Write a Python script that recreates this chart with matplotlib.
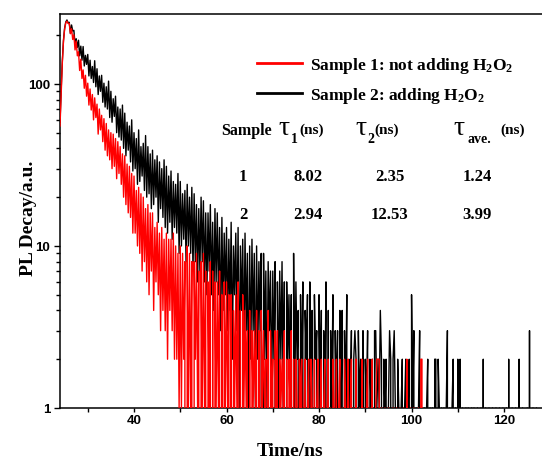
import numpy as np
import matplotlib
matplotlib.use('Agg')
import matplotlib.pyplot as plt
from matplotlib.lines import Line2D
from matplotlib.ticker import FixedLocator, NullFormatter, MultipleLocator
from matplotlib.font_manager import FontProperties

# ---------------- data (photon counts) ----------------
time_start = 24.0      # ns, first channel shown
time_step = 0.25       # ns per channel

# Sample 2: adding H2O2 (black), channels from 24.0 ns (8 values = 2 ns per row)
black_counts = [
    58, 92, 138, 186, 221, 241, 248, 238,
    240, 205, 231, 212, 214, 176, 190, 168,
    186, 149, 171, 140, 170, 129, 150, 132,
    152, 112, 140, 108, 128, 102, 139, 96,
    124, 86, 112, 90, 113, 77, 101, 72,
    96, 70, 104, 62, 90, 58, 81, 63,
    84, 50, 72, 47, 70, 45, 74, 40,
    66, 36, 58, 39, 55, 33, 60, 29,
    50, 30, 46, 24, 52, 25, 41, 27,
    43, 22, 48, 20, 41, 21, 37, 17,
    39, 18, 34, 20, 36, 14, 33, 17,
    30, 15, 34, 13, 31, 12, 27, 14,
    29, 11, 25, 13, 24, 12, 28, 9,
    25, 10, 21, 11, 22, 8, 24, 10,
    20, 9, 23, 7, 21, 8, 18, 6,
    17, 7, 20, 8, 19, 6, 16, 5,
    16, 7, 18, 5, 14, 4, 17, 6,
    16, 5, 13, 3, 15, 4, 12, 5,
    13, 3, 11, 4, 14, 2, 10, 5,
    12, 3, 13, 1, 10, 4, 11, 2,
    12, 3, 9, 1, 10, 2, 11, 3,
    9, 1, 10, 2, 8, 3, 9, 0,
    9, 2, 7, 1, 8, 3, 7, 1,
    7, 2, 8, 0, 6, 1, 7, 2,
    8, 1, 6, 0, 6, 2, 5, 1,
    5, 0, 9, 1, 6, 2, 4, 0,
    5, 1, 6, 0, 4, 2, 5, 0,
    6, 1, 4, 0, 5, 2, 3, 0,
    5, 1, 4, 0, 3, 1, 6, 0,
    4, 0, 3, 1, 5, 0, 3, 1,
    3, 0, 4, 1, 4, 0, 3, 1,
    5, 0, 2, 1, 3, 0, 2, 3,
    2, 0, 3, 1, 2, 0, 3, 0,
    2, 1, 3, 0, 2, 1, 2, 0,
    3, 3, 1, 2, 1, 4, 2, 0,
    2, 1, 2, 0, 1, 3, 2, 0,
    2, 3, 1, 0, 2, 1, 0, 1,
    2, 0, 1, 2, 0, 1, 2, 0,
    5, 1, 3, 0, 1, 0, 1, 3,
    0, 1, 0, 1, 0, 1, 2, 0,
    1, 0, 1, 0, 2, 2, 0, 2,
    1, 0, 1, 0, 1, 0, 1, 3,
    0, 1, 0, 1, 2, 0, 1, 0,
    2, 0, 2, 0, 1, 0, 0, 1,
    0, 1, 0, 0, 1, 0, 1, 0,
    0, 1, 0, 0, 1, 0, 2, 0,
    1, 0, 0, 1, 0, 0, 1, 0,
    0, 1, 0, 0, 1, 0, 0, 1,
    0, 0, 1, 0, 2, 0, 0, 1,
    0, 0, 1, 0, 0, 2, 0, 0,
    1, 0, 0, 0, 1, 0, 3, 0,
    0, 1, 0, 0, 1, 0, 0, 0,
    0,
]

# Sample 1: not adding H2O2 (red), channels from 24.0 ns (8 values = 2 ns per row)
red_counts = [
    55, 88, 135, 183, 218, 238, 244, 236,
    236, 204, 219, 188, 201, 162, 184, 149,
    158, 121, 142, 108, 122, 94, 113, 84,
    101, 74, 93, 69, 86, 60, 82, 62,
    75, 49, 70, 52, 64, 44, 61, 39,
    57, 36, 52, 34, 50, 30, 49, 31,
    46, 26, 44, 28, 41, 24, 37, 20,
    36, 18, 32, 16, 31, 15, 28, 12,
    27, 12, 22, 10, 23, 9, 21, 7,
    20, 8, 17, 6, 18, 5, 16, 7,
    16, 4, 13, 6, 14, 5, 12, 3,
    13, 4, 11, 3, 12, 2, 11, 4,
    11, 3, 12, 2, 10, 2, 9, 1,
    10, 1, 9, 2, 8, 0, 10, 1,
    9, 1, 8, 0, 8, 2, 9, 1,
    7, 0, 8, 1, 9, 1, 7, 0,
    6, 1, 8, 0, 7, 0, 6, 1,
    6, 1, 7, 0, 5, 0, 6, 1,
    6, 1, 5, 0, 5, 0, 4, 1,
    5, 1, 6, 0, 4, 0, 5, 1,
    4, 1, 3, 0, 4, 0, 3, 1,
    3, 1, 4, 0, 3, 0, 4, 1,
    3, 1, 2, 0, 4, 0, 3, 1,
    2, 0, 3, 1, 3, 0, 2, 1,
    2, 1, 3, 0, 2, 0, 2, 1,
    3, 0, 2, 0, 2, 1, 0, 2,
    1, 2, 0, 1, 2, 0, 1, 2,
    0, 2, 1, 0, 2, 0, 1, 2,
    0, 1, 2, 0, 1, 2, 0, 1,
    2, 0, 1, 0, 2, 1, 0, 2,
    0, 1, 2, 0, 1, 0, 2, 1,
    0, 2, 0, 1, 2, 0, 1, 0,
    2, 0, 0, 1, 0, 2, 0, 1,
    0, 1, 2, 0, 1, 0, 2, 0,
    0, 1, 2, 2, 2, 0, 1, 0,
    0, 1, 0, 0, 1, 0, 0, 0,
    1, 0, 0, 1, 0, 0, 1, 0,
    0, 1, 0, 0, 2, 0, 0, 1,
    0, 0, 1, 0, 0, 0, 1, 0,
    2, 2, 0, 0, 0,
]

series_labels = ['Sample 1: not adding H$_2$O$_2$', 'Sample 2: adding H$_2$O$_2$']
x_ticks = [40, 60, 80, 100, 120]
y_ticks = [1, 10, 100]
y_tick_labels = ['1', '10', '100']

table_samples = ['1', '2']
table_tau1 = ['8.02', '2.94']
table_tau2 = ['2.35', '12.53']
table_tave = ['1.24', '3.99']

# ---------------- figure ----------------
plt.rcParams['mathtext.fontset'] = 'custom'
plt.rcParams['mathtext.rm'] = 'Liberation Serif'
plt.rcParams['mathtext.bf'] = 'Liberation Serif:bold'
plt.rcParams['mathtext.default'] = 'bf'

W, H = 542, 464
fig = plt.figure(figsize=(W / 100, H / 100), dpi=100)
ax = fig.add_axes([60 / W, (H - 409) / H, (W - 60) / W, (409 - 15) / H])

black_t = time_start + time_step * np.arange(len(black_counts))
red_t = time_start + time_step * np.arange(len(red_counts))

ax.plot(black_t, black_counts, color='black', lw=1.0, zorder=2)
ax.plot(red_t, red_counts, color='#ff0000', lw=1.0, zorder=3)

ax.set_yscale('log', nonpositive='clip')
ax.set_ylim(1, 270)
ax.set_xlim(24, 128.2)

ax.xaxis.set_major_locator(FixedLocator(x_ticks))
ax.xaxis.set_minor_locator(MultipleLocator(10))
ax.yaxis.set_major_locator(FixedLocator(y_ticks))
ax.set_yticklabels(y_tick_labels)
ax.yaxis.set_minor_locator(FixedLocator([m * 10 ** e for e in range(0, 3) for m in range(2, 10)]))
ax.yaxis.set_minor_formatter(NullFormatter())

for s in ['left', 'bottom', 'top']:
    ax.spines[s].set_linewidth(1.1)
ax.spines['right'].set_visible(False)

ax.tick_params(axis='x', which='major', direction='out', length=3, width=1, pad=1.5)
ax.tick_params(axis='x', which='minor', direction='out', length=3, width=1)
ax.tick_params(axis='y', which='major', direction='out', length=4.5, width=1, pad=2.5)
ax.tick_params(axis='y', which='minor', direction='out', length=3, width=1)
for lab in ax.get_xticklabels() + ax.get_yticklabels():
    lab.set_fontfamily('Liberation Sans')
    lab.set_fontweight('bold')
    lab.set_fontsize(9.5)

ax.set_xlabel('Time/ns', family='Liberation Serif', weight='bold', fontsize=14, va='top')
ax.xaxis.set_label_coords((290 - 60) / (W - 60), -(443 - 409) / (409 - 15))
ax.set_ylabel('PL Decay/a.u.', family='Liberation Serif', weight='bold', fontsize=14)
ax.yaxis.set_label_coords(-(60 - 37) / (W - 60), 0.485)

# legend
handles = [Line2D([], [], color='#ff0000', lw=2), Line2D([], [], color='black', lw=2)]
ax.legend(handles, series_labels, loc='upper left', bbox_to_anchor=(257 / W, 1 - 56 / H),
          bbox_transform=fig.transFigure, frameon=False,
          prop=FontProperties(family='Liberation Serif', weight='bold', size=12.5),
          handlelength=2.6, handletextpad=0.45, labelspacing=0.6, borderpad=0, borderaxespad=0)


def ptext(x, y, s, **kw):
    fig.text(x / W, 1 - y / H, s, **kw)


bold = dict(family='Liberation Serif', weight='bold')
# header
ptext(246, 135, 'Sample', fontsize=11.5, ha='center', va='baseline', **bold)
for tx in [278, 355, 453]:
    ptext(tx, 135, '\u03c4', fontsize=20, family='Liberation Serif', ha='left', va='baseline')
for tx, sub in [(291, '1'), (367, '2'), (467, 'ave.')]:
    ptext(tx, 143, sub, fontsize=10, ha='left', va='baseline', **bold)
for tx in [299, 374, 500]:
    ptext(tx, 134, '(ns)', fontsize=11, ha='left', va='baseline', **bold)

# rows
cols_x = [243, 308, 390, 477]
rows_y = [177, 215]
for i in range(len(table_samples)):
    vals = [table_samples[i], table_tau1[i], table_tau2[i], table_tave[i]]
    for cx, v in zip(cols_x, vals):
        ptext(cx, rows_y[i], v, fontsize=12, ha='center', va='center', **bold)

fig.savefig('out.png', dpi=100)
